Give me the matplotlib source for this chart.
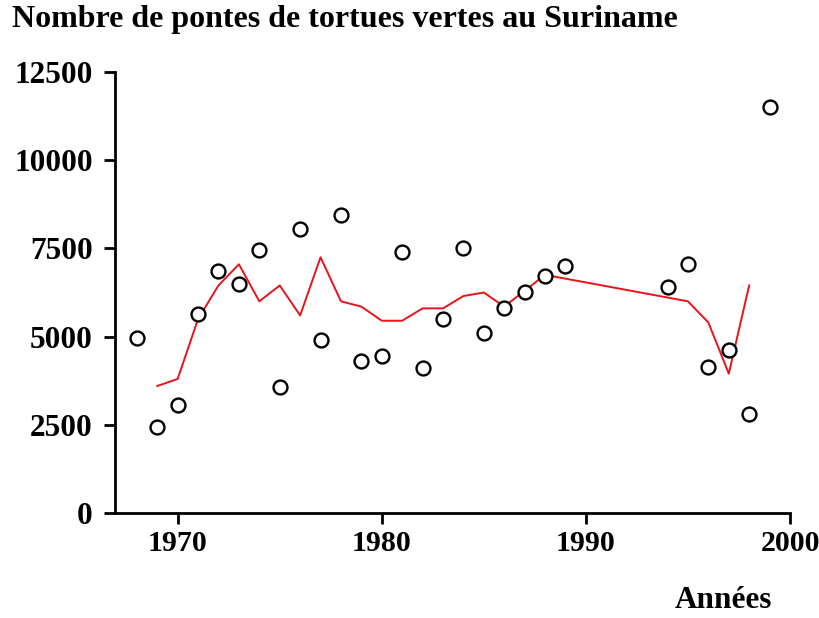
import matplotlib
matplotlib.use("Agg")
import matplotlib.pyplot as plt

# observed nest counts (circles)
years_obs = [1968, 1969, 1970, 1971, 1972, 1973, 1974, 1975, 1976, 1977,
             1978, 1979, 1980, 1981, 1982, 1983, 1984, 1985, 1986, 1987,
             1988, 1989, 1994, 1995, 1996, 1997, 1998, 1999]
nests_obs = [4950, 2450, 3050, 5650, 6850, 6500, 7450, 3580, 8050, 4900,
             8450, 4300, 4450, 7400, 4100, 5500, 7500, 5100, 5800, 6270,
             6720, 7000, 6400, 7050, 4150, 4630, 2800, 11500]

# smoothed trend (red line)
years_fit = [1969, 1970, 1971, 1972, 1973, 1974, 1975, 1976, 1977, 1978,
             1979, 1980, 1981, 1982, 1983, 1984, 1985, 1986, 1987, 1988,
             1995, 1996, 1997, 1998]
nests_fit = [3600, 3800, 5500, 6450, 7050, 6000, 6450, 5600, 7250, 6000,
             5850, 5450, 5450, 5800, 5800, 6150, 6250, 5850, 6300, 6750,
             6000, 5400, 3950, 6450]

xticks = [1970, 1980, 1990, 2000]
yticks = [0, 2500, 5000, 7500, 10000, 12500]

FONT = "Liberation Serif"

fig = plt.figure(figsize=(8.19, 6.18), dpi=100)
ax = fig.add_axes([115 / 819, 1 - 513 / 618, (790 - 115) / 819, (513 - 72) / 618])

ax.plot(years_fit, nests_fit, color="#e8141a", linewidth=1.4, zorder=2)
ax.plot(years_obs, nests_obs, linestyle="none", marker="o", markersize=10,
        markerfacecolor="white", markeredgecolor="black", markeredgewidth=1.7, zorder=3)

ax.set_xlim(1966.93, 2000)
ax.set_ylim(0, 12500)
ax.set_xticks(xticks)
ax.set_yticks(yticks)
ax.set_xticklabels([str(v) for v in xticks], fontfamily=FONT, fontweight="bold", fontsize=21.5)
ax.set_yticklabels([str(v) for v in yticks], fontfamily=FONT, fontweight="bold", fontsize=22.5)

for spine in ("top", "right"):
    ax.spines[spine].set_visible(False)
for spine in ("left", "bottom"):
    ax.spines[spine].set_linewidth(2)
ax.tick_params(direction="out", length=8, width=2, colors="black")
ax.tick_params(axis="x", pad=4)
ax.tick_params(axis="y", pad=8)

fig.text(12 / 819, 1 - 20 / 618, "Nombre de pontes de tortues vertes au Suriname",
         fontfamily=FONT, fontweight="bold", fontsize=23, ha="left", va="center")
fig.text(772 / 819, 1 - 601 / 618, "Années",
         fontfamily=FONT, fontweight="bold", fontsize=22.5, ha="right", va="center")

fig.savefig("out.png", dpi=100, facecolor="white")
